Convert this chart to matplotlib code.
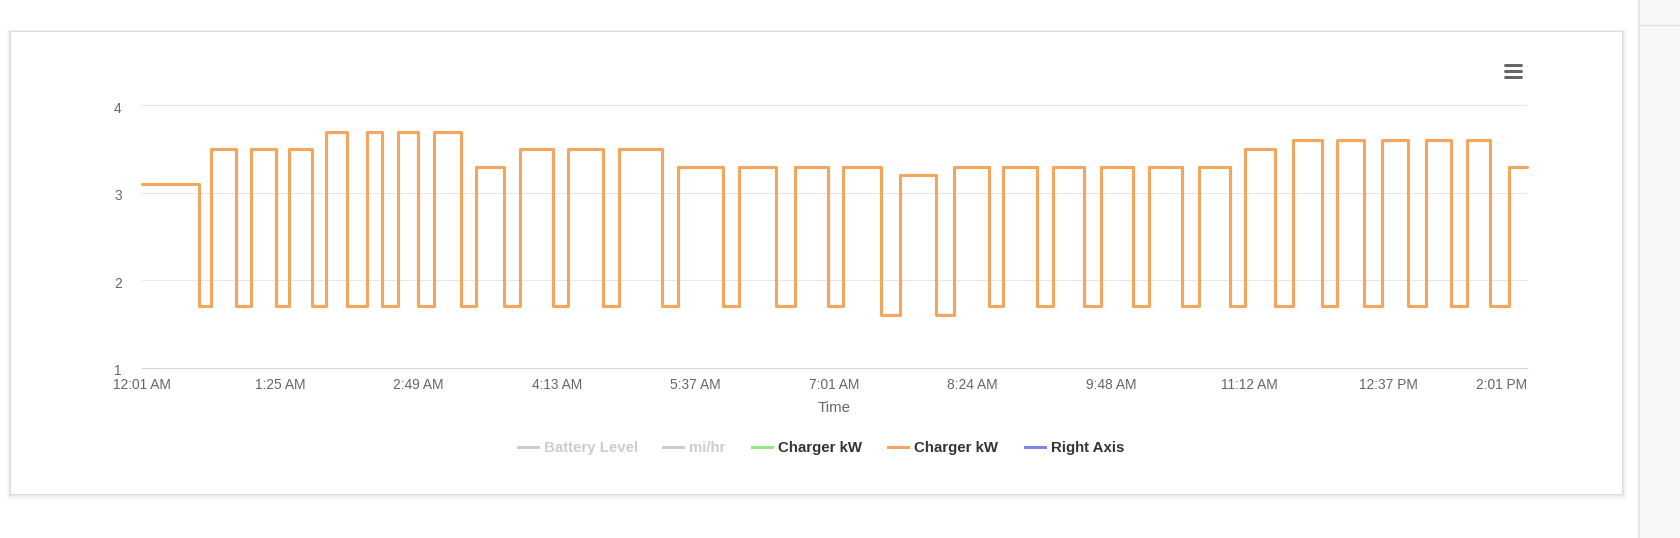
import matplotlib as mpl
mpl.use('Agg')
import matplotlib.pyplot as plt
from matplotlib.patches import Rectangle
import matplotlib.transforms as mtransforms
import numpy as np

plt.rcParams['font.family'] = ['Liberation Sans', 'DejaVu Sans']

# charging pulses, minutes after 12:01 AM
rise_min = [0, 42, 66.5, 89.5, 112, 136.5, 155.5, 177.5, 203, 229.5, 258.5,
            289.5, 325.5, 362.5, 396, 425.5, 460, 492.5, 522.5, 553, 582,
            611, 641, 669, 698, 725, 752.5, 779, 804, 829]
fall_min = [34.5, 57, 81.5, 103, 124.5, 146, 167.5, 193.5, 219.5, 249.5, 280,
            315.5, 352.5, 385, 416.5, 448.5, 481.5, 514, 543, 571.5, 601,
            631, 660, 687.5, 716, 741.5, 768, 794, 818, 840]
high_kw = [3.1, 3.5, 3.5, 3.5, 3.7, 3.7, 3.7, 3.7, 3.3, 3.5, 3.5,
           3.5, 3.3, 3.3, 3.3, 3.3, 3.2, 3.3, 3.3, 3.3, 3.3,
           3.3, 3.3, 3.5, 3.6, 3.6, 3.6, 3.6, 3.6, 3.3]
# level between one pulse and the next
low_kw = [1.7, 1.7, 1.7, 1.7, 1.7, 1.7, 1.7, 1.7, 1.7, 1.7,
          1.7, 1.7, 1.7, 1.7, 1.7, 1.6, 1.6, 1.7, 1.7, 1.7,
          1.7, 1.7, 1.7, 1.7, 1.7, 1.7, 1.7, 1.7, 1.7]

tick_labels = ['12:01 AM', '1:25 AM', '2:49 AM', '4:13 AM', '5:37 AM', '7:01 AM',
               '8:24 AM', '9:48 AM', '11:12 AM', '12:37 PM', '2:01 PM']
y_ticks = [1, 2, 3, 4]

legend_names = ['Battery Level', 'mi/hr', 'Charger kW', 'Charger kW', 'Right Axis']
legend_colors = ['#cccccc', '#cccccc', '#90ed7d', '#f7a35c', '#8085e9']
legend_on = [False, False, True, True, True]

# step line vertices
xs, ys = [], []
for i in range(len(rise_min)):
    xs += [rise_min[i], fall_min[i]]
    ys += [high_kw[i], high_kw[i]]
    if i < len(low_kw):
        xs += [fall_min[i], rise_min[i + 1]]
        ys += [low_kw[i], low_kw[i]]

W, H = 1680, 538
PT = 0.72  # px -> pt at 100 dpi
fig = plt.figure(figsize=(16.8, 5.38), dpi=100)

# page background, card and decorations in pixel coordinates
bg = fig.add_axes([0, 0, 1, 1], zorder=0)
bg.set_xlim(0, W)
bg.set_ylim(H, 0)
bg.axis('off')
bg.add_patch(Rectangle((1638, 0), W - 1638, H, fc='#f7f7f7', lw=0))
bg.plot([1638.5, 1638.5], [0, H], color='#e6e6e6', lw=1.5)
bg.plot([1638, W], [24.5, 24.5], color='#dedede', lw=0.8)

cx0, cy0, cx1, cy1 = 11, 32, 1622, 494
for d, a in [(5, 0.012), (4, 0.018), (3, 0.025), (2, 0.035), (1, 0.05)]:
    bg.add_patch(Rectangle((cx0 - d, cy0 - d * 0.6), cx1 - cx0 + 2 * d,
                           cy1 - cy0 + d * 1.8, fc='black', alpha=a, lw=0))
bg.add_patch(Rectangle((cx0, cy0), cx1 - cx0, cy1 - cy0, fc='white', lw=0))

# menu icon
for yy in [64.5, 70.5, 76.5]:
    bg.plot([1505, 1521], [yy, yy], color='#666666', lw=3 * PT,
            solid_capstyle='round')

# legend
sym_x = [517.5, 663, 752, 888, 1025]
for sx, name, col, on in zip(sym_x, legend_names, legend_colors, legend_on):
    bg.plot([sx, sx + 20], [447, 447], color=col, lw=3 * PT)
    bg.text(sx + 26, 448, name, fontsize=15 * PT, fontweight='bold',
            color='#333333' if on else '#cccccc', ha='left', va='center')

# plot area
L, R, T, B = 141.7, 1526.7, 105.3, 367.7
ax = fig.add_axes([L / W, 1 - B / H, (R - L) / W, (B - T) / H], zorder=2)
ax.patch.set_alpha(0)
ax.plot(xs, ys, color='#f3a65e', lw=3.1 * PT, solid_joinstyle='round',
        solid_capstyle='round', clip_on=False)
ax.set_xlim(0, 840)
ax.set_ylim(1, 4)
ax.set_xticks(np.linspace(0, 840, len(tick_labels)))
ax.set_xticklabels(tick_labels)
ax.get_xticklabels()[-1].set_horizontalalignment('right')
ax.set_yticks(y_ticks)
ax.set_yticklabels([str(v) for v in y_ticks])
ax.tick_params(axis='both', length=0, labelsize=13.75 * PT, labelcolor='#666666')
ax.tick_params(axis='x', pad=10 * PT)
ax.tick_params(axis='y', pad=20 * PT)
shift = mtransforms.ScaledTranslation(0, -2 / 100, fig.dpi_scale_trans)
for lab in ax.get_yticklabels():
    lab.set_transform(lab.get_transform() + shift)
ax.yaxis.grid(True, color='#e6e6e6', lw=1 * PT)
ax.set_axisbelow(True)
for s in ['top', 'left', 'right']:
    ax.spines[s].set_visible(False)
ax.spines['bottom'].set_color('#ccd6eb')
ax.spines['bottom'].set_linewidth(1 * PT)
ax.set_xlabel('Time', fontsize=15 * PT, color='#666666', labelpad=9 * PT)

plt.savefig('out.png', dpi=100)
plt.close()
